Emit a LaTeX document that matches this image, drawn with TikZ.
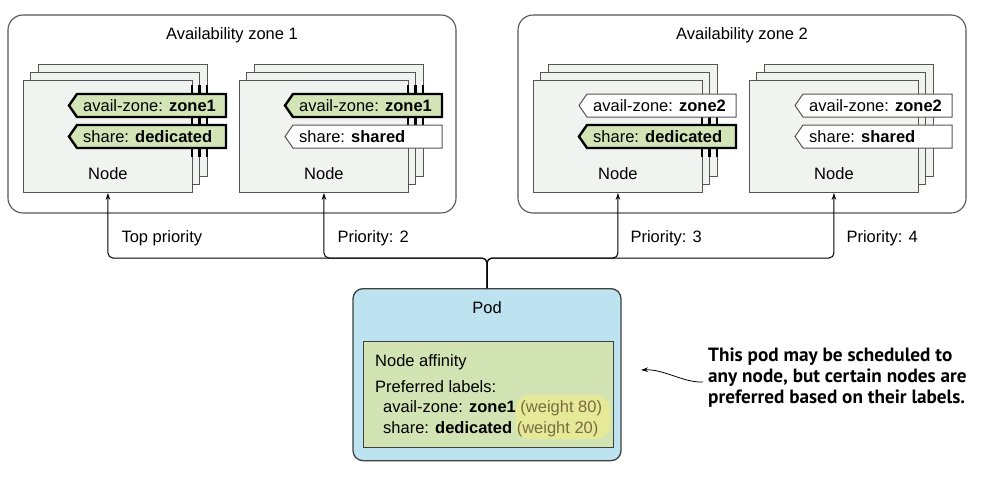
\documentclass[tikz,border=0pt]{standalone}
\usepackage{fontspec}
\setmainfont{Liberation Sans}
\newfontfamily\notefont{PT Sans}
\usepackage{tikz}
\usetikzlibrary{arrows.meta,positioning}
\definecolor{nodegray}{HTML}{F1F3F1}
\definecolor{taggreen}{HTML}{D3E5B6}
\definecolor{podblue}{HTML}{BEE3F0}
\definecolor{affgreen}{HTML}{D3E4B4}
\definecolor{hlyellow}{HTML}{E6EA98}
\definecolor{weightc}{HTML}{7A6C40}
\definecolor{linegray}{HTML}{555555}

\tikzset{
  zonebox/.style={draw=linegray, line width=1.1pt, rounded corners=15pt, fill=white},
  sheet/.style={draw=linegray, line width=0.9pt, fill=nodegray},
  greentag/.style={draw=black, line width=2.4pt, fill=taggreen},
  whitetag/.style={draw=linegray, line width=1pt, fill=white},
  link/.style={line width=1pt, rounded corners=5pt},
  tip/.style={-{Stealth[length=7pt,width=4.5pt]}},
}

\newcommand\nstack[3]{%
  \draw[sheet] (#2+15,#3-16) rectangle ++(169,112);
  \draw[sheet] (#2+7.5,#3-8) rectangle ++(169,112);
  \node[sheet, anchor=north west, minimum width=169pt, minimum height=112pt, inner sep=0pt] (#1) at (#2,#3) {};
  \node (#1txt) at ([yshift=-37pt]#1.center) {Node};}
\newcommand\ntag[4]{%
  \draw[#1] (#2,#3) -- (#2-149,#3) -- (#2-157,#3+11.5) -- (#2-149,#3+23) -- (#2,#3+23) -- cycle;
  \node[anchor=west, inner sep=0pt] at (#2-143,#3+11.5) {#4};}
\newcommand\hot[2]{%
  \foreach \dx in {0,7.5,15}
    \draw[line width=2.4pt] (#1+\dx,#2-9) -- (#1+\dx,#2+32);}

\begin{document}
\begin{tikzpicture}[x=1pt, y=-1pt, font=\fontsize{16.5}{19}\selectfont]
  \useasboundingbox (0,0) rectangle (992,479);

  \draw[zonebox] (8,15) rectangle (456,213);
  \draw[zonebox] (518,15) rectangle (966,213);
  \node (z1) at (232,35) {Availability zone 1};
  \node (z2) at (742,35) {Availability zone 2};

  \nstack{A}{23}{80}
  \nstack{B}{239}{80}
  \nstack{C}{533}{80}
  \nstack{D}{749}{80}

  \hot{192}{94} \hot{192}{125}
  \hot{408}{94}
  \hot{702}{125}

  \ntag{greentag}{226}{94}{avail-zone: \textbf{zone1}}
  \ntag{greentag}{226}{125}{share: \textbf{dedicated}}
  \ntag{greentag}{442}{94}{avail-zone: \textbf{zone1}}
  \ntag{whitetag}{442}{125}{share: \textbf{shared}}
  \ntag{whitetag}{736}{94}{avail-zone: \textbf{zone2}}
  \ntag{greentag}{736}{125}{share: \textbf{dedicated}}
  \ntag{whitetag}{952}{94}{avail-zone: \textbf{zone2}}
  \ntag{whitetag}{952}{125}{share: \textbf{shared}}

  \node[draw=black!75, line width=1.3pt, rounded corners=10pt, fill=podblue,
    minimum width=268pt, minimum height=172pt, anchor=north] (pod) at (487,288) {};
  \node (podtxt) at (487,308) {Pod};
  \draw[draw=black!75, line width=1pt, fill=affgreen] (363,341) rectangle (613,447);
  \fill[hlyellow, rounded corners=14pt] (516,395) rectangle (610,439);
  \node[anchor=west, inner sep=0pt] (aff) at (375,362) {Node affinity};
  \node[anchor=west, inner sep=0pt] (pref) at (375,387) {Preferred labels:};
  \node[anchor=west, inner sep=0pt] (w80) at (383,408) {avail-zone: \textbf{zone1} \textcolor{weightc}{(weight 80)}};
  \node[anchor=west, inner sep=0pt] (w20) at (383,429) {share: \textbf{dedicated} \textcolor{weightc}{(weight 20)}};

  \coordinate (hub) at (487,258);
  \draw[link, tip] (pod.north) -- (hub) -| (A.south);
  \draw[link, tip] (pod.north) -- (hub) -| (B.south);
  \draw[link, tip] (pod.north) -- (hub) -| (C.south);
  \draw[link, tip] (pod.north) -- (hub) -| (D.south);
  \node[anchor=west] (p1) at (118,238) {Top priority};
  \node[anchor=west] (p2) at (334,238) {Priority: 2};
  \node[anchor=west] (p3) at (627,238) {Priority: 3};
  \node[anchor=west] (p4) at (843,238) {Priority: 4};

  \node[anchor=west, align=left, inner sep=2pt,
    font=\notefont\bfseries\fontsize{19.2}{21}\selectfont] (note) at (706,378)
    {This pod may be scheduled to\\any node, but certain nodes are\\preferred based on their labels.};
  \coordinate (aim) at (641,370);
  \draw[tip, line width=.8pt] (703,382) .. controls (684,383) and (664,369) .. (aim);
\end{tikzpicture}
\end{document}
